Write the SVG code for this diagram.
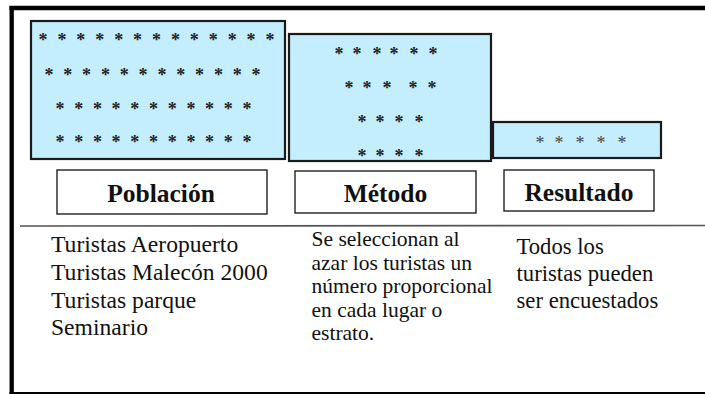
<svg xmlns="http://www.w3.org/2000/svg" width="705" height="394" viewBox="0 0 705 394">
<style>
.blk{fill:#C4EEFE;stroke:#1a1a1a;stroke-width:2.2}
.lbl{fill:#fff;stroke:#222;stroke-width:1.4}
.star{font-size:18px;font-weight:bold;fill:#222;text-anchor:middle}
.star2{font-size:18px;fill:#444;text-anchor:middle}
.head{font-size:25.5px;font-weight:bold;fill:#111;text-anchor:middle}
.desc{fill:#111}
</style>
<rect x="0" y="0" width="705" height="394" fill="#fff"/>
<g id="frame" stroke="#000" fill="none">
<line x1="9.5" y1="8" x2="705" y2="8" stroke-width="4.3"/>
<line x1="11.7" y1="6" x2="11.7" y2="394" stroke-width="4.3"/>
<line x1="9.5" y1="393" x2="705" y2="393" stroke-width="2.2"/>
</g>
<g id="connectors">
<line x1="20" y1="226" x2="705" y2="225.5" stroke="#555" stroke-width="1.6"/>
</g>
<g font-family="Liberation Serif, Times New Roman, serif">
<g id="poblacion-block">
<rect class="blk" x="31" y="21" width="254" height="138"/>
<text class="star" y="46" x="43 61.9 80.8 99.8 118.7 137.6 156.5 175.4 194.3 213.3 232.2 251.1 270">*************</text>
<text class="star" y="80.5" x="49 67.8 86.6 105.5 124.3 143.1 161.9 180.7 199.5 218.4 237.2 256">************</text>
<text class="star" y="114.5" x="60 78.7 97.4 116.1 134.8 153.5 172.2 190.9 209.6 228.3 247">***********</text>
<text class="star" y="147.5" x="60 78.7 97.4 116.1 134.8 153.5 172.2 190.9 209.6 228.3 247">***********</text>
</g>
<g id="metodo-block">
<rect class="blk" x="289" y="34" width="202" height="127"/>
<text class="star" y="59.5" x="339 357 377 394 414 433">******</text>
<text class="star" y="93.5" x="349 367 387 413 432">*****</text>
<text class="star" y="127.5" x="362 380 399 419">****</text>
<text class="star" y="161.5" x="362 380 399 419">****</text>
</g>
<g id="resultado-block">
<rect class="blk" x="493" y="122" width="168" height="36"/>
<text class="star2" y="148.5" x="540 559 580 601 622">*****</text>
</g>
<g id="poblacion-label">
<rect class="lbl" x="57" y="170" width="210" height="44"/>
<text class="head" x="161" y="202">Población</text>
</g>
<g id="metodo-label">
<rect class="lbl" x="295" y="171" width="181" height="42"/>
<text class="head" x="385.5" y="201.5">Método</text>
</g>
<g id="resultado-label">
<rect class="lbl" x="504" y="170" width="150" height="41"/>
<text class="head" x="579" y="201">Resultado</text>
</g>
<g id="poblacion-text">
<text class="desc" font-size="23.6" x="51">
<tspan x="51" y="252">Turistas Aeropuerto</tspan>
<tspan x="51" y="279.8">Turistas Malecón 2000</tspan>
<tspan x="51" y="307.6">Turistas parque</tspan>
<tspan x="51" y="335.4">Seminario</tspan>
</text>
</g>
<g id="metodo-text">
<text class="desc" font-size="21.5" x="311.5">
<tspan x="311.5" y="246">Se seleccionan al</tspan>
<tspan x="311.5" y="269.5">azar los turistas un</tspan>
<tspan x="311.5" y="293">número proporcional</tspan>
<tspan x="311.5" y="316.5">en cada lugar o</tspan>
<tspan x="311.5" y="340">estrato.</tspan>
</text>
</g>
<g id="resultado-text">
<text class="desc" font-size="22.7" x="516.5">
<tspan x="516.5" y="254">Todos los</tspan>
<tspan x="516.5" y="281">turistas pueden</tspan>
<tspan x="516.5" y="308">ser encuestados</tspan>
</text>
</g>
</g>
</svg>
